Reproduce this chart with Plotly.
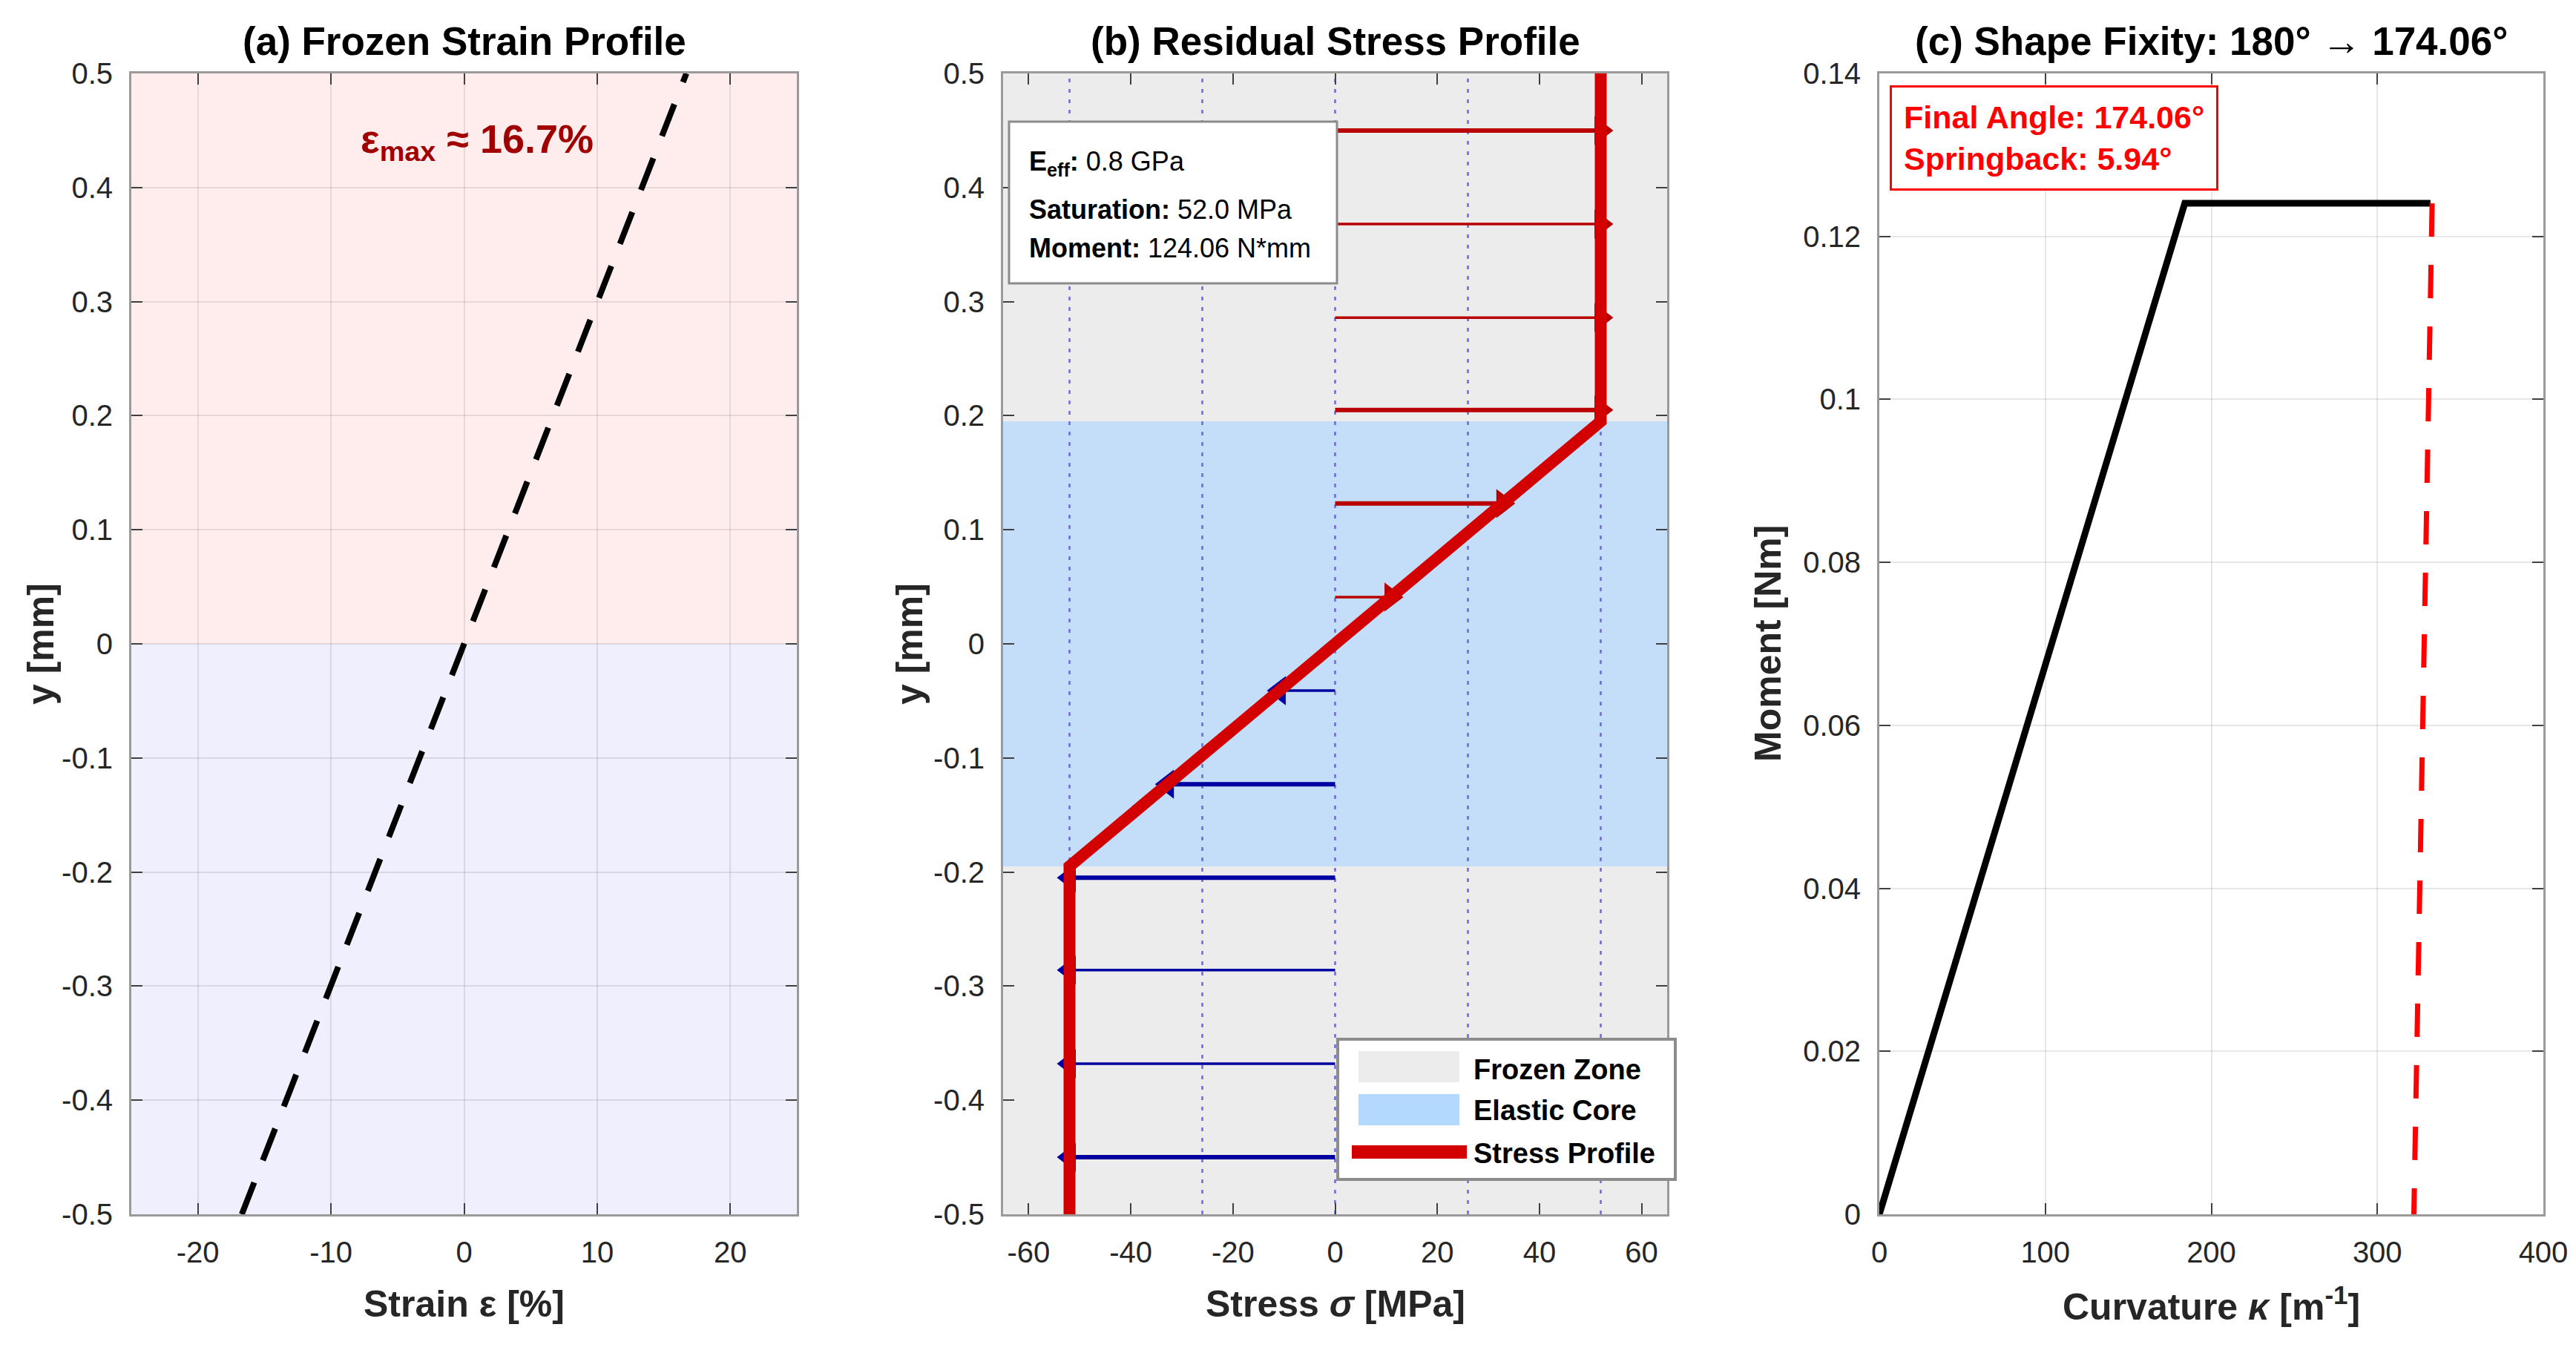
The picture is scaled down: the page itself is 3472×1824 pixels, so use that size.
import plotly.graph_objects as go

# ---------------- data ----------------
# (a) frozen strain profile
strain_y = [-0.5, 0.5]
strain_pct = [-16.7, 16.7]
strain_xticks = [-20, -10, 0, 10, 20]
y_ticks = [-0.5, -0.4, -0.3, -0.2, -0.1, 0, 0.1, 0.2, 0.3, 0.4, 0.5]
y_ticktext = ["-0.5", "-0.4", "-0.3", "-0.2", "-0.1", "0", "0.1", "0.2", "0.3", "0.4", "0.5"]

# (b) residual stress profile
half_thick = 0.5
core_half = 0.195
sigma_sat = 52.0
stress_xlim = 65.0
profile_y = [-0.5, -0.195, 0.195, 0.5]
profile_s = [-52.0, -52.0, 52.0, 52.0]
arrow_y = [-0.45, -0.368, -0.286, -0.205, -0.123, -0.041, 0.041, 0.123, 0.205, 0.286, 0.368, 0.45]
arrow_s = [-52.0, -52.0, -52.0, -52.0, -32.8, -10.9, 10.9, 32.8, 52.0, 52.0, 52.0, 52.0]
ref_lines_s = [-52.0, -26.0, 0.0, 26.0, 52.0]
stress_xticks = [-60, -40, -20, 0, 20, 40, 60]
stress_xticktext = ["-60", "-40", "-20", "0", "20", "40", "60"]
legend_labels = ["Frozen Zone", "Elastic Core", "Stress Profile"]

# (c) shape fixity
load_kappa = [0, 184, 332]
load_moment = [0, 0.12406, 0.12406]
unload_kappa = [333, 322]
unload_moment = [0.12406, 0]
curv_xticks = [0, 100, 200, 300, 400]
moment_yticks = [0, 0.02, 0.04, 0.06, 0.08, 0.1, 0.12, 0.14]
moment_yticktext = ["0", "0.02", "0.04", "0.06", "0.08", "0.1", "0.12", "0.14"]

# style only: apparent shaft widths of the quiver arrows (as rendered)
arrow_widths = [6, 3.5, 3.5, 6, 6, 3.5, 3.5, 6, 6, 3.5, 3.5, 6]

# ---------------- layout geometry ----------------
W, H = 3472, 1824
ML, MR, MT, MB = 177, 44, 99, 187
PW = W - ML - MR
PH = H - MT - MB

def px_x(p):
    return (p - ML) / PW

def px_y(p):
    return (H - MB - p) / PH

dom_a = [0.0, px_x(1074)]
dom_b = [px_x(1352), px_x(2247)]
dom_c = [px_x(2533), 1.0]

FONT = "Liberation Sans, Arial, Helvetica, sans-serif"
TICKFONT = dict(family=FONT, size=40, color="#262626")
AXLINE = "#9A9A9A"
GRID = "rgba(38,38,38,0.11)"
RED_PROFILE = "#D20000"
FROZEN = "#ECECEC"
CORE = "rgba(179,217,255,0.7)"

fig = go.Figure()

# ---- (a) ----
fig.add_trace(go.Scatter(x=strain_pct, y=strain_y, mode="lines",
                         line=dict(color="black", width=8, dash="46px,32px"),
                         showlegend=False, xaxis="x", yaxis="y"))

# ---- (b) ----
fig.add_trace(go.Scatter(x=[-stress_xlim, stress_xlim, stress_xlim, -stress_xlim, -stress_xlim],
                         y=[-half_thick, -half_thick, half_thick, half_thick, -half_thick],
                         fill="toself", fillcolor=FROZEN, mode="none",
                         showlegend=False, xaxis="x2", yaxis="y2"))
fig.add_trace(go.Scatter(x=[-stress_xlim, stress_xlim, stress_xlim, -stress_xlim, -stress_xlim],
                         y=[-core_half, -core_half, core_half, core_half, -core_half],
                         fill="toself", fillcolor=CORE, mode="none",
                         showlegend=False, xaxis="x2", yaxis="y2"))
for s in ref_lines_s:
    fig.add_trace(go.Scatter(x=[s, s], y=[-half_thick, half_thick], mode="lines",
                             line=dict(color="#6A6AD8", width=2.5, dash="5px,9px"),
                             showlegend=False, hoverinfo="skip", xaxis="x2", yaxis="y2"))

# quiver arrows (shaft + head), drawn beneath the profile line
for yy, ss, wd in zip(arrow_y, arrow_s, arrow_widths):
    col = "#B80000" if ss > 0 else "#0000A0"
    fig.add_trace(go.Scatter(x=[0, ss], y=[yy, yy], mode="lines", line=dict(color=col, width=wd),
                             showlegend=False, xaxis="x2", yaxis="y2"))
for sign, col, sym in [(1, "#B80000", "triangle-right"), (-1, "#0000A0", "triangle-left")]:
    hx = [ss for ss in arrow_s if ss * sign > 0]
    hy = [yy for yy, ss in zip(arrow_y, arrow_s) if ss * sign > 0]
    fig.add_trace(go.Scatter(x=hx, y=hy, mode="markers",
                             marker=dict(symbol=sym, size=34, color=col, line=dict(width=0)),
                             showlegend=False, xaxis="x2", yaxis="y2"))

fig.add_trace(go.Scatter(x=profile_s, y=profile_y, mode="lines",
                         line=dict(color=RED_PROFILE, width=16),
                         showlegend=False, xaxis="x2", yaxis="y2"))

# ---- (c) ----
fig.add_trace(go.Scatter(x=load_kappa, y=load_moment, mode="lines",
                         line=dict(color="black", width=9),
                         showlegend=False, xaxis="x3", yaxis="y3"))
fig.add_trace(go.Scatter(x=unload_kappa, y=unload_moment, mode="lines",
                         line=dict(color="#FF0000", width=7, dash="45px,38px"),
                         showlegend=False, xaxis="x3", yaxis="y3"))

# ---- shapes ----
shapes = [
    dict(type="rect", xref="x domain", yref="y", x0=0, x1=1, y0=0, y1=0.5,
         fillcolor="#FFEDED", line=dict(width=0), layer="below"),
    dict(type="rect", xref="x domain", yref="y", x0=0, x1=1, y0=-0.5, y1=0,
         fillcolor="#EFEFFD", line=dict(width=0), layer="below"),
    # info box (b)
    dict(type="rect", xref="x2 domain", yref="y2 domain",
         x0=(1360 - 1352) / 895, x1=(1802 - 1352) / 895,
         y0=(1637 - 382) / 1538, y1=(1637 - 164) / 1538,
         fillcolor="white", line=dict(color="#8C8C8C", width=3), layer="above"),
    # legend box (b)
    dict(type="rect", xref="paper", yref="paper",
         x0=px_x(1803), x1=px_x(2258), y0=px_y(1590), y1=px_y(1401),
         fillcolor="white", line=dict(color="#8C8C8C", width=4), layer="above"),
    dict(type="rect", xref="paper", yref="paper",
         x0=px_x(1831), x1=px_x(1967), y0=px_y(1459), y1=px_y(1417),
         fillcolor=FROZEN, line=dict(width=0), layer="above"),
    dict(type="rect", xref="paper", yref="paper",
         x0=px_x(1831), x1=px_x(1967), y0=px_y(1517), y1=px_y(1475),
         fillcolor="#B3D9FF", line=dict(width=0), layer="above"),
    dict(type="line", xref="paper", yref="paper",
         x0=px_x(1822), x1=px_x(1977), y0=px_y(1553), y1=px_y(1553),
         line=dict(color=RED_PROFILE, width=18), layer="above"),
]

annotations = []
# titles
titles = [("(a) Frozen Strain Profile", dom_a),
          ("(b) Residual Stress Profile", dom_b),
          ("(c) Shape Fixity: 180° → 174.06°", dom_c)]
for t, d in titles:
    annotations.append(dict(text="<b>" + t + "</b>", x=(d[0] + d[1]) / 2, y=px_y(55),
                            xref="paper", yref="paper", showarrow=False,
                            xanchor="center", yanchor="middle",
                            font=dict(family=FONT, size=53, color="black")))
# x axis titles
xlabels = [("Strain ε [%]", dom_a),
           ("Stress <i>σ</i> [MPa]", dom_b),
           ("Curvature <i>κ</i> [m<sup>-1</sup>]", dom_c)]
for t, d in xlabels:
    annotations.append(dict(text="<b>" + t + "</b>", x=(d[0] + d[1]) / 2, y=px_y(1758),
                            xref="paper", yref="paper", showarrow=False,
                            xanchor="center", yanchor="middle",
                            font=dict(family=FONT, size=50, color="#262626")))
# y axis titles
ylabels = [("y [mm]", 55), ("y [mm]", 1226), ("Moment [Nm]", 2383)]
for t, xp in ylabels:
    annotations.append(dict(text="<b>" + t + "</b>", x=px_x(xp), y=0.5,
                            xref="paper", yref="paper", showarrow=False, textangle=-90,
                            xanchor="center", yanchor="middle",
                            font=dict(family=FONT, size=50, color="#262626")))

# (a) epsilon max label
annotations.append(dict(text="<b>ε<sub>max</sub> ≈ 16.7%</b>", x=-7.9, y=0.44,
                        xref="x", yref="y", showarrow=False, xanchor="left", yanchor="middle",
                        font=dict(family=FONT, size=54, color="#A00000")))

# (b) info text
info_lines = ["<b>E<sub>eff</sub>:</b> 0.8 GPa",
              "<b>Saturation:</b> 52.0 MPa",
              "<b>Moment:</b> 124.06 N*mm"]
info_y = [220, 282, 335]
for t, yp in zip(info_lines, info_y):
    annotations.append(dict(text=t, x=(1385 - 1352) / 895, y=(1637 - yp) / 1538,
                            xref="x2 domain", yref="y2 domain", showarrow=False,
                            xanchor="left", yanchor="middle",
                            font=dict(family=FONT, size=36, color="black")))

# (b) legend text
for t, yp in zip(legend_labels, [1442, 1497, 1555]):
    annotations.append(dict(text="<b>" + t + "</b>", x=px_x(1984), y=px_y(yp),
                            xref="paper", yref="paper", showarrow=False,
                            xanchor="left", yanchor="middle",
                            font=dict(family=FONT, size=38, color="black")))

# (c) result box
annotations.append(dict(text="<b>Final Angle: 174.06°<br>Springback: 5.94°</b>",
                        x=(2547 - 2533) / 895, y=(1637 - 115) / 1538,
                        xref="x3 domain", yref="y3 domain", showarrow=False,
                        xanchor="left", yanchor="top", align="left",
                        bgcolor="white", bordercolor="#FF0000", borderwidth=3, borderpad=16,
                        font=dict(family=FONT, size=43, color="#FF0000")))

def axis_common():
    return dict(showline=True, linecolor=AXLINE, linewidth=3, mirror="ticks",
                ticks="inside", ticklen=15, tickwidth=2, tickcolor="#404040",
                zeroline=False, tickfont=TICKFONT, fixedrange=True)

layout = dict(
    width=W, height=H, autosize=False,
    margin=dict(l=ML, r=MR, t=MT, b=MB, pad=0),
    paper_bgcolor="white", plot_bgcolor="white",
    font=dict(family=FONT, color="#262626"),
    shapes=shapes, annotations=annotations,
    showlegend=False,
    xaxis=dict(domain=dom_a, range=[-25, 25], tickvals=strain_xticks,
               ticktext=[str(v) for v in strain_xticks],
               showgrid=True, gridcolor=GRID, gridwidth=2, anchor="y",
               ticklabelstandoff=14, **axis_common()),
    yaxis=dict(domain=[0, 1], range=[-0.5, 0.5], tickvals=y_ticks, ticktext=y_ticktext,
               showgrid=True, gridcolor=GRID, gridwidth=2, anchor="x",
               ticklabelstandoff=14, **axis_common()),
    xaxis2=dict(domain=dom_b, range=[-stress_xlim, stress_xlim], tickvals=stress_xticks,
                ticktext=stress_xticktext, showgrid=False, anchor="y2",
                ticklabelstandoff=14, **axis_common()),
    yaxis2=dict(domain=[0, 1], range=[-0.5, 0.5], tickvals=y_ticks, ticktext=y_ticktext,
                showgrid=False, anchor="x2", ticklabelstandoff=14, **axis_common()),
    xaxis3=dict(domain=dom_c, range=[0, 400], tickvals=curv_xticks,
                ticktext=[str(v) for v in curv_xticks],
                showgrid=True, gridcolor=GRID, gridwidth=2, anchor="y3",
                ticklabelstandoff=14, **axis_common()),
    yaxis3=dict(domain=[0, 1], range=[0, 0.14], tickvals=moment_yticks, ticktext=moment_yticktext,
                showgrid=True, gridcolor=GRID, gridwidth=2, anchor="x3",
                ticklabelstandoff=14, **axis_common()),
)
fig.update_layout(**layout)
fig.write_html("out.html", config={"displayModeBar": False})
